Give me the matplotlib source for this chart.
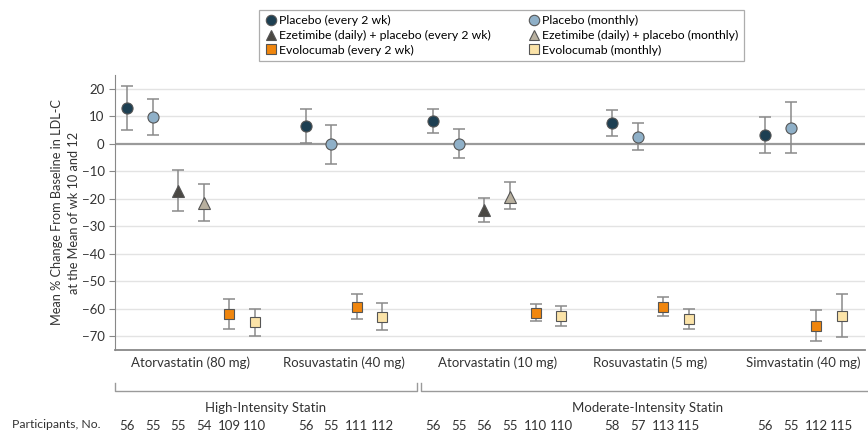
import matplotlib
matplotlib.use("Agg")
import matplotlib.pyplot as plt
from matplotlib.lines import Line2D
import matplotlib.transforms as mtransforms

plt.rcParams["font.family"] = ["Lato", "DejaVu Sans"]

# statin groups and the treatment arms they contain
groups = ["Atorvastatin (80 mg)", "Rosuvastatin (40 mg)", "Atorvastatin (10 mg)",
          "Rosuvastatin (5 mg)", "Simvastatin (40 mg)"]
group_arms = [
    ["p2", "pm", "e2", "em", "v2", "vm"],
    ["p2", "pm", "v2", "vm"],
    ["p2", "pm", "e2", "em", "v2", "vm"],
    ["p2", "pm", "v2", "vm"],
    ["p2", "pm", "v2", "vm"],
]
# slot where each group starts (gaps between groups)
group_start = [0, 7, 12, 19, 25]

# mean % change, lower and upper CI bounds per group, in arm order
means = [
    [12.9, 9.6, -17.2, -21.7, -61.8, -65.0],
    [6.3, 0.0, -59.2, -63.0],
    [8.4, 0.0, -24.2, -19.3, -61.4, -62.6],
    [7.5, 2.6, -59.4, -63.7],
    [3.3, 5.8, -66.2, -62.5],
]
lower = [
    [5.1, 3.0, -24.5, -28.2, -67.3, -69.8],
    [0.2, -7.2, -63.7, -67.9],
    [4.0, -5.1, -28.6, -23.9, -64.4, -66.1],
    [2.8, -2.2, -62.8, -67.3],
    [-3.4, -3.4, -71.9, -70.1],
]
upper = [
    [20.9, 16.3, -9.4, -14.5, -56.4, -60.1],
    [12.7, 6.9, -54.6, -58.0],
    [12.7, 5.4, -19.6, -13.9, -58.2, -58.9],
    [12.1, 7.6, -55.9, -60.1],
    [9.6, 15.3, -60.4, -54.6],
]
participants = [
    [56, 55, 55, 54, 109, 110],
    [56, 55, 111, 112],
    [56, 55, 56, 55, 110, 110],
    [58, 57, 113, 115],
    [56, 55, 112, 115],
]

arm_labels = {
    "p2": "Placebo (every 2 wk)",
    "pm": "Placebo (monthly)",
    "e2": "Ezetimibe (daily) + placebo (every 2 wk)",
    "em": "Ezetimibe (daily) + placebo (monthly)",
    "v2": "Evolocumab (every 2 wk)",
    "vm": "Evolocumab (monthly)",
}
arm_style = {
    "p2": ("o", "#1d3f52"),
    "pm": ("o", "#8fb0c8"),
    "e2": ("^", "#4a4843"),
    "em": ("^", "#b8b09f"),
    "v2": ("s", "#f0860e"),
    "vm": ("s", "#fbe3a8"),
}
intensity = ["High-Intensity Statin", "Moderate-Intensity Statin"]

fig = plt.figure(figsize=(8.68, 4.45), dpi=100)
ax = fig.add_axes([0.1325, 0.2135, 0.864, 0.618])
ax.set_xlim(-0.47, 28.9)
ax.set_ylim(-75, 25)

ax.set_yticks(range(-70, 21, 10))
for y in range(-70, 21, 10):
    if y == 0:
        ax.axhline(0, color="#9a9a9a", lw=1.6, zorder=1)
    else:
        ax.axhline(y, color="#e3e3e3", lw=1.0, zorder=0)

for spine in ["top", "right"]:
    ax.spines[spine].set_visible(False)
ax.spines["left"].set_color("#888888")
ax.spines["bottom"].set_color("#888888")
ax.spines["bottom"].set_linewidth(1.3)
ax.tick_params(axis="y", colors="#888888", labelcolor="#333333", labelsize=9.5, length=4)
ax.tick_params(axis="x", length=0, labelsize=9.5, labelcolor="#333333", pad=5)

trans = mtransforms.blended_transform_factory(ax.transData, ax.transAxes)
centers = []
for gi, arms in enumerate(group_arms):
    xs = [group_start[gi] + k for k in range(len(arms))]
    centers.append((xs[0] + xs[-1]) / 2)
    for k, arm in enumerate(arms):
        m = means[gi][k]
        err = [[m - lower[gi][k]], [upper[gi][k] - m]]
        mk, col = arm_style[arm]
        ax.errorbar(xs[k], m, yerr=err, fmt="none", ecolor="#8a8a8a",
                    elinewidth=1.1, capsize=4, capthick=1.1, zorder=2)
        ax.plot(xs[k], m, marker=mk, ms=8 if mk != "s" else 7.5, color=col,
                mec="#555555", mew=0.8, ls="none", zorder=3)
        ax.text(xs[k], -0.275, str(participants[gi][k]), transform=trans,
                ha="center", va="center", fontsize=9.5, color="#333333")

ax.set_xticks(centers)
ax.set_xticklabels(groups)

fig.text(12 / 868, 1 - 425 / 445, "Participants, No.", ha="left",
         va="center", fontsize=8.8, color="#333333")
ax.text(-0.066, 0.5, "Mean % Change From Baseline in LDL-C\nat the Mean of wk 10 and 12",
        transform=ax.transAxes, rotation=90, ha="center", va="center",
        fontsize=9.2, color="#333333", linespacing=1.45)

# intensity brackets
brackets = [(-0.47, 11.35), (11.5, 29.2)]
for (x0, x1), name in zip(brackets, intensity):
    ax.plot([x0, x0, x1, x1], [-0.12, -0.148, -0.148, -0.12], transform=trans,
            color="#9a9a9a", lw=1.0, clip_on=False)
    ax.text((x0 + x1) / 2 if x1 < 28 else 20.4, -0.21, name, transform=trans,
            ha="center", va="center", fontsize=9.5, color="#333333")

handles = []
for arm in ["p2", "e2", "v2", "pm", "em", "vm"]:
    mk, col = arm_style[arm]
    handles.append(Line2D([], [], marker=mk, color=col, mec="#555555", mew=0.8,
                          ls="none", ms=7.5, label=arm_labels[arm]))
leg = fig.legend(handles=handles, ncol=2, loc="upper center",
                 bbox_to_anchor=(0.578, 0.992), fontsize=8.8, frameon=True,
                 fancybox=False, handletextpad=0.2, handlelength=1.0,
                 columnspacing=3.0, labelspacing=0.3, borderpad=0.45)
leg.get_frame().set_edgecolor("#999999")
leg.get_frame().set_linewidth(0.9)

fig.savefig("out.png", dpi=100)
